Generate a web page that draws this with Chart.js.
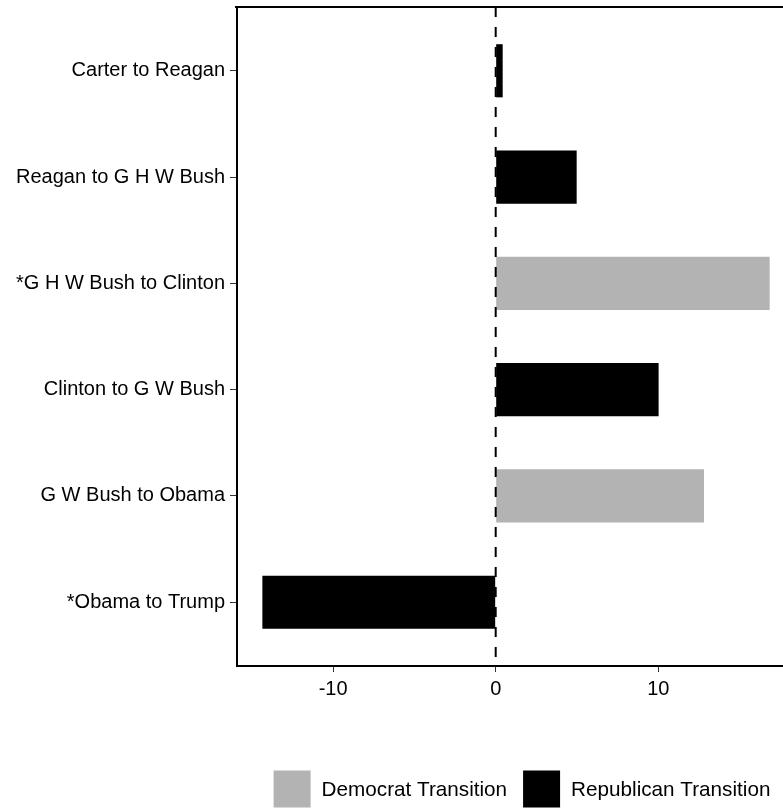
<!DOCTYPE html>
<html>
<head>
<meta charset="utf-8">
<script src="https://cdn.jsdelivr.net/npm/chart.js@4/dist/chart.umd.min.js"></script>
<style>
  html, body { margin: 0; padding: 0; background: #ffffff; }
  #chart { display: block; }
</style>
</head>
<body>
<canvas id="chart" width="783" height="808"></canvas>
<script>
// Presidential transitions and the change measured across each one
const categories = [
  'Carter to Reagan',
  'Reagan to G H W Bush',
  '*G H W Bush to Clinton',
  'Clinton to G W Bush',
  'G W Bush to Obama',
  '*Obama to Trump'
];
const changes = [0.43, 4.98, 16.85, 10.02, 12.81, -14.35];
const parties = ['Republican', 'Republican', 'Democrat', 'Republican', 'Democrat', 'Republican'];
const seriesNames = ['Democrat', 'Republican'];
const seriesLabels = ['Democrat Transition', 'Republican Transition'];
const seriesColors = ['#b3b3b3', '#000000'];
const xTicks = [-10, 0, 10];

const FONT = "'Liberation Sans', Arial, Helvetica, sans-serif";

// one dataset per party; each bar sits at its category index
const datasets = seriesNames.map((name, s) => ({
  label: seriesLabels[s],
  data: categories
    .map((c, i) => (parties[i] === name ? { x: changes[i], y: i } : null))
    .filter(p => p !== null),
  backgroundColor: seriesColors[s],
  borderWidth: 0,
  stack: 'all',
  categoryPercentage: 1,
  barPercentage: 0.5
}));

// dashed reference line at zero, drawn above the bars
const zeroLine = {
  id: 'zeroLine',
  afterDatasetsDraw(chart) {
    const { ctx, chartArea, scales } = chart;
    const x = scales.x.getPixelForValue(0);
    ctx.save();
    ctx.strokeStyle = '#000000';
    ctx.lineWidth = 2;
    ctx.setLineDash([10, 10]);
    ctx.beginPath();
    ctx.moveTo(x, chartArea.top);
    ctx.lineTo(x, chartArea.bottom);
    ctx.stroke();
    ctx.restore();
  }
};

// top panel edge
const topEdge = {
  id: 'topEdge',
  afterDraw(chart) {
    const { ctx, chartArea } = chart;
    ctx.save();
    ctx.strokeStyle = '#000000';
    ctx.lineWidth = 2;
    ctx.beginPath();
    ctx.moveTo(chartArea.left - 2, chartArea.top);
    ctx.lineTo(chartArea.right, chartArea.top);
    ctx.stroke();
    ctx.restore();
  }
};

// legend with square keys below the axis
const keyLegend = {
  id: 'keyLegend',
  afterDraw(chart) {
    const { ctx } = chart;
    const box = 37, gap = 11, spacing = 16;
    const centerX = 522, centerY = 789;
    ctx.save();
    ctx.font = '20.7px ' + FONT;
    ctx.textBaseline = 'middle';
    const widths = chart.data.datasets.map(d => ctx.measureText(d.label).width);
    const total = widths.reduce((a, w) => a + box + gap + w, 0) + spacing * (widths.length - 1);
    let x = centerX - total / 2;
    chart.data.datasets.forEach((d, i) => {
      ctx.fillStyle = d.backgroundColor;
      ctx.fillRect(x, centerY - box / 2, box, box);
      ctx.fillStyle = '#000000';
      ctx.fillText(d.label, x + box + gap, centerY + 1);
      x += box + gap + widths[i] + spacing;
    });
    ctx.restore();
  }
};

new Chart(document.getElementById('chart'), {
  type: 'bar',
  data: { datasets },
  plugins: [zeroLine, topEdge, keyLegend],
  options: {
    indexAxis: 'y',
    responsive: false,
    animation: false,
    events: [],
    layout: { padding: { top: 7, right: 0, bottom: 0, left: 0 } },
    plugins: {
      legend: { display: false },
      tooltip: { enabled: false }
    },
    scales: {
      y: {
        type: 'linear',
        reverse: true,
        stacked: true,
        offset: false,
        min: -0.6,
        max: 5.6,
        afterBuildTicks: scale => { scale.ticks = categories.map((c, i) => ({ value: i })); },
        afterFit: scale => {
          scale.width = 237;
          scale.paddingTop = 0;
          scale.paddingBottom = 0;
        },
        ticks: {
          autoSkip: false,
          padding: 5,
          color: '#000000',
          font: { family: FONT, size: 20 },
          callback: v => categories[v]
        },
        grid: { offset: false, drawOnChartArea: false, drawTicks: true, tickLength: 7, tickColor: '#333333', tickWidth: 1 },
        border: { display: true, color: '#000000', width: 2 }
      },
      x: {
        type: 'linear',
        stacked: true,
        min: -15.91,
        max: 17.67,
        afterBuildTicks: scale => { scale.ticks = xTicks.map(v => ({ value: v })); },
        afterFit: scale => {
          scale.height = 142;
          scale.paddingLeft = 0;
          scale.paddingRight = 0;
        },
        ticks: {
          padding: 5,
          color: '#000000',
          font: { family: FONT, size: 20 },
          callback: v => String(v)
        },
        grid: { drawOnChartArea: false, drawTicks: true, tickLength: 6, tickColor: '#333333', tickWidth: 1 },
        border: { display: true, color: '#000000', width: 2 }
      }
    }
  }
});
</script>
</body>
</html>
